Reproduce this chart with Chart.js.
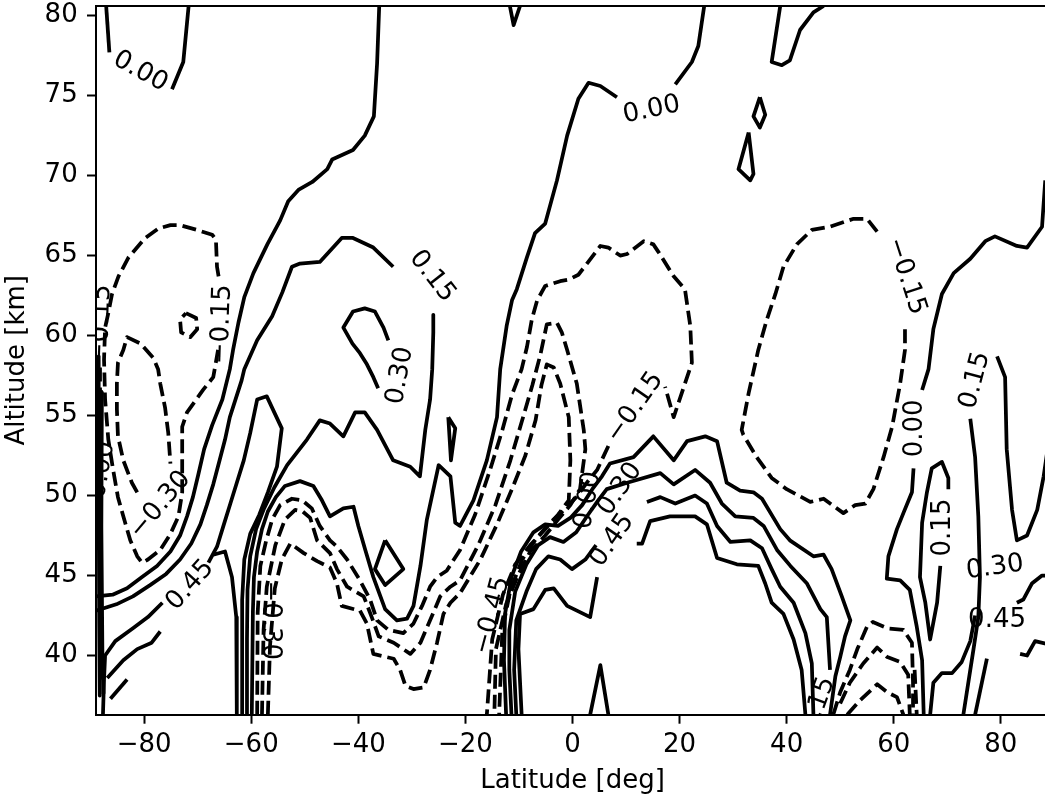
<!DOCTYPE html>
<html lang="en">
<head>
<meta charset="UTF-8">
<title>Contours</title>
<script src="https://cdn.jsdelivr.net/npm/chart.js"></script>
<style>
  html, body { margin: 0; padding: 0; background: #fff; overflow: hidden; }
  #wrap { width: 1050px; height: 801px; }
</style>
</head>
<body>
<div id="wrap"><canvas id="myChart" width="1050" height="801"></canvas></div>
<script>
// axis ticks
const latTicks = [-80, -60, -40, -20, 0, 20, 40, 60, 80];
const altTicks = [40, 45, 50, 55, 60, 65, 70, 75, 80];

// contour lines, [latitude, altitude]
const topLeftA = [[-87.1,80.6],[-86.5,77.7]];
const topLeftB = [[-74.8,75.4],[-72.7,77.1],[-71.7,80.6]];
const zeroWest = [[-36.1,80.6],[-36.5,77.0],[-37.1,73.7],[-38.8,72.5],[-41.0,71.6],[-44.9,71.0],[-45.8,70.4],[-48.6,69.6],[-51.2,69.1],[-53.1,68.4],[-54.6,67.2],[-57.0,65.7],[-59.6,63.9],[-61.3,62.4],[-62.4,60.8],[-63.4,59.1],[-64.0,57.9],[-65.4,56.0],[-67.3,54.4],[-68.8,52.9],[-69.9,51.3],[-70.9,49.9],[-72.0,48.7],[-73.3,47.5],[-75.1,46.5],[-77.6,45.6],[-80.4,44.9],[-83.2,44.2],[-85.9,43.8],[-89.0,43.7]];
const p15West = [[-33.5,64.3],[-37.2,65.5],[-41.0,66.1],[-43.1,66.1],[-47.2,64.6],[-50.9,64.5],[-52.4,64.3],[-54.2,62.7],[-56.1,61.2],[-58.9,59.7],[-61.3,57.9],[-61.8,57.2],[-64.0,54.9],[-64.9,53.5],[-66.0,52.1],[-67.1,50.7],[-68.3,49.4],[-69.5,48.2],[-71.2,47.0],[-73.3,46.0],[-75.9,45.1],[-78.9,44.4],[-82.1,43.7],[-85.2,43.2],[-89.0,42.8]];
const p45West = [[-87.7,36.3],[-87.5,38.5],[-87.3,40.0],[-85.4,40.9],[-82.1,41.7],[-79.3,42.4],[-76.6,43.3]];
const p45Peak = [[-68.0,45.8],[-66.4,46.8],[-65.2,48.1],[-63.9,49.5],[-62.7,50.8],[-61.4,52.2],[-60.2,53.9],[-58.9,56.0],[-57.1,56.2],[-54.3,54.2],[-55.2,51.8],[-56.9,50.2],[-58.5,48.8],[-60.2,47.6],[-61.3,46.0],[-61.7,43.5],[-61.7,36.3]];
const hookWest = [[-67.1,46.3],[-64.9,46.5],[-63.6,44.9],[-62.8,42.4],[-62.7,36.3]];
const lowWestA = [[-86.9,38.6],[-83.9,39.7],[-81.3,40.4],[-78.6,40.8],[-77.0,41.5]];
const lowWestB = [[-86.3,37.3],[-83.2,38.5]];
const edgeSolidA = [[-88.6,58.7],[-88.5,50.0],[-88.4,42.0],[-88.3,37.5]];
const edgeSolidB = [[-87.9,56.5],[-88.0,48.0],[-87.8,40.0],[-87.6,37.6]];
const p30Loop = [[-34.4,59.7],[-35.3,60.5],[-36.9,61.5],[-38.8,61.7],[-41.0,61.5],[-42.8,60.5],[-41.1,59.5],[-39.7,58.9],[-38.4,58.2],[-37.2,57.4],[-36.3,56.7]];
const p15Mid = [[-26.0,61.3],[-26.0,60.2],[-26.2,57.9],[-26.6,56.0],[-27.5,54.1],[-28.5,51.2],[-30.3,51.8],[-33.5,52.2],[-36.5,54.1],[-38.8,55.2],[-40.6,55.2],[-42.8,53.7],[-45.3,54.5],[-47.2,54.7],[-49.6,53.5],[-53.3,51.9],[-55.7,50.5],[-57.6,49.2],[-59.1,47.9],[-60.2,46.2],[-60.7,44.1],[-60.8,41.0],[-60.8,36.3]];
const zeroMidTop = [[24.6,80.6],[23.5,78.1],[22.3,77.1],[19.2,75.7]];
const zeroMid = [[8.3,74.9],[5.2,75.6],[3.0,75.8],[1.1,74.8],[-1.0,72.5],[-2.9,69.7],[-5.1,67.0],[-7.0,66.4],[-8.5,64.9],[-10.4,62.9],[-11.3,62.2],[-12.3,60.6],[-13.5,57.9],[-14.1,54.9],[-16.0,52.2],[-18.5,49.7],[-21.0,48.1],[-21.9,48.3],[-22.8,51.2],[-25.0,51.9],[-27.2,48.5],[-28.4,45.6],[-29.7,43.1],[-30.9,42.3],[-32.8,42.2],[-35.0,42.9],[-37.2,44.9],[-38.7,46.6],[-40.0,48.1],[-40.9,49.3],[-42.8,49.2],[-45.3,48.7],[-46.8,49.7],[-48.4,50.6],[-50.9,50.9],[-53.7,50.6],[-55.4,49.9],[-56.9,49.0],[-58.0,47.9],[-58.9,46.5],[-59.5,44.9],[-59.7,42.7],[-59.9,36.3]];
const topNotch = [[-11.7,80.6],[-11.0,79.4],[-9.8,80.6]];
const bottomNotch = [[3.3,36.3],[5.2,39.4],[6.7,36.3]];
const diamondA = [[35.0,74.9],[36.0,73.8],[35.0,73.0],[33.8,73.7],[35.0,74.9]];
const diamondB = [[32.9,72.7],[33.8,70.1],[33.2,69.7],[31.0,70.4],[32.9,72.7]];
const sliverLoop = [[-23.2,54.9],[-21.9,54.2],[-22.7,52.2],[-23.2,54.9]];
const midDiamond = [[-35.0,47.2],[-31.6,45.4],[-35.0,44.4],[-36.9,45.4],[-35.0,47.2]];
const topRightHook = [[38.8,80.6],[37.2,77.1],[39.1,76.9],[40.6,77.2],[42.5,79.1],[45.0,80.2],[46.9,80.6]];
const eastZeroTop = [[88.3,69.7],[87.7,66.8],[84.9,65.5],[83.0,65.6],[78.9,66.2],[77.1,65.9],[74.3,64.8],[71.2,63.9],[69.0,62.6],[67.4,60.4],[66.5,57.9],[65.3,56.6]];
const eastZeroLow = [[63.7,51.7],[63.4,50.2],[61.8,48.9],[60.6,47.9],[59.0,46.2],[58.7,44.8],[61.2,44.7],[63.0,44.1],[64.3,41.8],[65.3,39.7],[65.6,36.3]];
const eastV = [[70.2,50.4],[70.2,51.1],[69.0,52.1],[67.1,51.7],[66.2,50.2],[65.3,48.3],[64.9,44.9],[65.9,43.3],[66.8,41.0],[68.1,43.3],[68.7,45.6]];
const east15 = [[74.3,54.8],[75.2,52.4],[75.8,48.7],[76.1,44.9],[75.8,42.4],[74.9,40.4],[73.0,36.3]];
const east45A = [[77.4,39.8],[75.2,36.3]];
const east45B = [[66.8,36.3],[67.4,38.3],[69.0,38.9],[70.9,38.9],[72.7,39.6],[74.3,40.9],[75.2,42.5]];
const eastEdge = [[79.3,58.7],[80.8,57.4],[81.1,52.9],[82.1,49.1],[83.0,47.2],[84.9,47.5],[86.8,49.1],[88.0,51.2],[89.0,53.5]];
const eastTailA = [[83.0,43.3],[84.2,43.5],[85.8,44.5],[87.7,45.0],[89.0,45.0]];
const eastTailB = [[83.6,40.1],[84.9,40.0],[86.4,40.9],[89.0,40.7]];
const arch00 = [[-12.4,36.3],[-12.8,39.7],[-12.6,42.6],[-11.4,44.9],[-9.6,46.5],[-7.3,47.7],[-5.1,48.2],[-2.7,48.1],[-0.4,48.6],[1.8,49.4],[3.7,50.4],[5.5,51.2],[7.0,52.0],[11.4,52.4],[15.1,53.7],[18.9,52.2],[21.4,53.4],[24.8,53.7],[27.0,53.4],[28.8,50.8],[31.3,50.3],[33.8,50.2],[35.4,49.8],[38.8,47.9],[40.6,47.2],[45.0,46.2],[46.9,46.3],[48.4,45.4],[50.3,43.7],[51.9,42.2],[50.9,41.2],[50.0,39.9],[49.1,38.7],[48.1,36.3]];
const arch15 = [[-11.4,36.3],[-11.8,39.1],[-11.8,41.6],[-10.7,44.0],[-8.6,45.7],[-6.4,46.9],[-4.2,47.4],[-1.7,47.1],[0.7,47.7],[2.9,48.8],[4.8,49.7],[6.4,50.4],[10.2,50.8],[16.4,51.4],[18.9,50.7],[22.9,51.6],[25.7,50.8],[27.9,49.5],[30.4,48.7],[33.8,48.6],[35.7,48.1],[38.2,46.6],[40.7,45.6],[43.8,44.5],[46.3,42.9],[47.5,42.4],[48.1,39.1]];
const arch30West = [[-10.5,36.3],[-10.9,39.1],[-10.5,42.2],[-8.6,44.0],[-6.8,45.4],[-4.5,46.2],[-2.3,46.0],[-0.1,45.4],[2.4,46.0],[4.4,46.9]];
const arch30East = [[13.9,49.6],[16.4,49.9],[19.2,49.5],[22.9,50.0],[25.1,49.5],[27.0,48.1],[29.5,47.1],[33.2,47.2],[35.4,46.7],[37.2,45.4],[38.8,44.3],[41.3,43.3],[43.5,41.4],[44.7,39.5],[45.0,36.3]];
const arch45West = [[-9.5,36.3],[-10.1,40.4],[-9.8,42.6],[-7.3,42.9],[-5.1,44.1],[-3.5,44.2],[-1.0,43.1],[3.3,42.4],[4.6,44.9]];
const arch45East = [[12.0,47.0],[13.0,47.0],[14.5,48.4],[18.2,48.7],[22.9,48.7],[25.1,48.2],[27.0,46.1],[30.7,45.7],[34.7,45.6],[36.0,44.5],[37.2,43.3],[39.4,42.6],[41.3,41.0],[42.8,39.1],[43.5,36.3]];

// negative (dashed) contours
const m15West = [[-66.1,63.7],[-66.4,64.3],[-66.6,66.0],[-67.3,66.3],[-70.1,66.6],[-73.3,66.9],[-75.1,66.9],[-77.3,66.7],[-79.8,66.1],[-82.9,64.9],[-84.8,63.7],[-86.0,62.6],[-86.7,61.4],[-87.3,60.5],[-87.5,58.5],[-87.3,56.0],[-86.7,53.5],[-85.8,51.6],[-84.9,49.9],[-83.9,48.7],[-82.6,47.2],[-81.3,46.2],[-80.4,45.8],[-79.3,46.0],[-77.0,46.6],[-75.1,47.6],[-73.6,48.7],[-72.9,50.2],[-72.9,52.2],[-72.9,54.3],[-72.0,55.2],[-69.0,56.6],[-67.1,57.4],[-66.2,59.1]];
const m30West = [[-81.3,50.2],[-82.3,50.8],[-83.9,52.2],[-84.9,53.7],[-85.1,55.4],[-85.1,57.0],[-84.9,58.3],[-83.9,59.1],[-83.2,59.9],[-80.7,59.5],[-78.3,58.6],[-77.4,57.9],[-77.0,57.0],[-76.1,55.5],[-75.5,53.9],[-75.1,52.0]];
const m15Dot = [[-72.2,61.4],[-70.3,61.1],[-70.1,60.4],[-71.4,59.9],[-73.1,60.2],[-73.3,61.0],[-72.2,61.4]];
const edgeDash = [[-88.25,58.0],[-88.2,38.5]];
const tongue15 = [[-58.9,36.3],[-58.8,42.7],[-58.3,45.6],[-57.2,47.2],[-56.1,48.5],[-54.6,49.4],[-52.4,49.8],[-50.5,49.7],[-48.7,49.2],[-47.2,48.1],[-45.3,47.2],[-44.0,46.8],[-42.1,46.0],[-39.7,44.7],[-37.8,43.5],[-36.5,42.2],[-34.4,41.6],[-31.6,41.4],[-29.7,42.0],[-28.1,43.1],[-26.6,44.3],[-25.3,44.9],[-23.5,45.3],[-21.0,46.6],[-18.2,48.8],[-15.4,51.6],[-13.1,54.1],[-11.3,56.3],[-9.5,57.9],[-8.5,59.3],[-7.6,61.0],[-6.6,62.2],[-5.1,63.1],[-2.3,63.4],[-0.7,63.5],[1.1,63.8],[2.7,64.5],[5.2,65.6],[6.7,65.5],[8.9,65.0],[10.2,65.1],[13.3,65.9],[15.1,65.7],[16.1,65.2],[18.9,63.7],[21.0,62.9],[22.0,60.6],[22.3,58.3],[18.9,54.9],[17.3,56.8]];
const tongue15Tail = [[6.7,53.1],[4.6,51.6],[2.9,50.9],[0.7,49.9],[-1.9,49.0],[-4.5,48.2],[-7.0,47.2],[-9.4,46.0],[-11.6,44.1],[-13.1,41.6],[-13.7,36.3]];
const tongue30 = [[-58.0,36.3],[-57.7,41.6],[-57.1,44.3],[-55.5,46.9],[-53.7,48.5],[-51.8,49.1],[-50.4,49.0],[-49.0,48.6],[-47.7,47.2],[-45.3,46.4],[-44.0,45.4],[-42.1,44.3],[-39.0,43.7],[-37.5,42.4],[-36.2,41.2],[-33.4,40.8],[-30.3,40.1],[-28.4,40.8],[-26.6,42.2],[-24.7,43.7],[-22.8,44.3],[-21.0,44.7],[-17.6,46.9],[-14.4,49.4],[-11.6,52.2],[-9.4,54.7],[-7.5,56.9],[-6.0,58.8],[-4.8,60.7],[-2.9,60.8],[-2.0,60.2],[-1.0,59.1],[0.8,57.0],[2.1,54.1],[2.4,52.9],[1.4,50.4],[-0.4,49.4],[-2.7,48.5],[-5.1,47.5],[-7.9,46.5],[-10.2,45.0],[-12.4,43.2],[-14.3,40.4],[-14.6,36.3]];
const tongue45 = [[-56.9,36.3],[-56.5,40.6],[-55.6,44.2],[-54.3,46.0],[-52.7,47.0],[-50.2,46.4],[-47.7,45.9],[-45.3,45.5],[-44.0,44.5],[-43.1,43.1],[-39.7,42.8],[-38.4,42.0],[-37.2,40.1],[-33.4,39.8],[-32.2,39.1],[-31.2,38.1],[-29.7,37.9],[-27.8,38.0],[-26.6,39.1],[-25.3,40.8],[-24.1,42.6],[-22.8,43.3],[-21.0,43.9],[-17.2,46.0],[-14.1,48.2],[-11.3,50.4],[-8.8,52.5],[-6.9,54.7],[-5.8,56.9],[-4.8,58.2],[-3.5,58.0],[-2.3,57.0],[-0.7,54.9],[-0.4,52.2],[-0.7,49.7],[-2.7,48.8],[-5.1,47.9],[-7.9,46.9],[-10.7,45.7],[-13.0,43.8],[-15.0,41.0],[-16.0,36.3]];
const m15East = [[56.9,66.5],[55.0,67.3],[52.5,67.3],[48.1,66.8],[44.7,66.6],[41.9,65.7],[39.4,64.3],[37.9,62.6],[36.3,61.0],[34.7,59.1],[32.9,56.4],[31.6,54.1],[31.9,53.8],[34.4,52.4],[37.2,51.1],[40.0,50.4],[44.4,49.6],[46.9,49.8],[50.6,48.9],[52.8,49.4],[54.7,49.5],[56.2,50.4],[58.1,52.4],[59.7,54.3],[61.2,57.0],[62.1,59.1],[62.1,60.5]];
const eastDashA = [[48.7,36.3],[50.0,37.7],[51.8,39.1],[53.2,40.4],[55.0,41.8],[56.1,42.1],[58.8,41.7],[61.8,41.6],[63.4,40.8],[63.6,38.3],[63.6,36.3]];
const eastDashB = [[50.0,37.0],[51.8,38.3],[54.3,39.5],[56.9,40.5],[58.8,39.9],[61.2,39.6],[62.7,38.8],[63.0,36.3]];
const eastDashC = [[51.3,36.3],[53.7,37.2],[56.9,38.2],[58.8,37.7],[60.6,37.4],[61.8,36.3]];
const eastDashD = [[63.9,39.1],[64.3,36.3]];

// inline contour labels
const labelTexts = ['0.00','0.15','0.30','\u22120.15','\u22120.30','0.45','0.00','\u22120.15','\u22120.15','0.00','0.15','0.15','0.30','0.45','0.30','0.45','0.00','\u22120.45','\u22120.30','\u22120.15','0.00','0.15'];
const labelLat = [-80.7,-26.2,-32.2,-65.5,-77.0,-71.4,14.8,11.7,62.3,64.0,75.2,69.2,78.9,79.3,8.9,7.4,2.9,-15.0,-56.6,-88.0,-87.9,45.9];
const labelAlt = [76.5,63.7,57.5,60.7,49.4,44.4,74.1,55.5,63.7,54.2,57.2,48.0,45.5,42.2,50.4,47.2,49.7,42.5,42.2,60.7,51.6,36.9];
const labelAngle = [29,52,-80,-88,-50,-48,-12,-55,72,-90,-75,-90,-8,0,-55,-55,-80,-75,90,-88,-80,-70];

const solidPaths = [topLeftA, topLeftB, zeroWest, p15West, p45West, p45Peak, hookWest, lowWestA, lowWestB,
  edgeSolidA, edgeSolidB, p30Loop, p15Mid, zeroMidTop, zeroMid, topNotch, bottomNotch, diamondA, diamondB,
  sliverLoop, midDiamond, topRightHook, eastZeroTop, eastZeroLow, eastV, east15, east45A, east45B, eastEdge,
  eastTailA, eastTailB, arch00, arch15, arch30West, arch30East, arch45West, arch45East];
const dashedPaths = [m15West, m30West, m15Dot, edgeDash, tongue15, tongue15Tail, tongue30, tongue45, m15East,
  eastDashA, eastDashB, eastDashC, eastDashD];

const FONT = "'DejaVu Sans', 'Liberation Sans', sans-serif";
const FS = 26;

function toDataset(path, dashed) {
  return {
    data: path.map(p => ({ x: p[0], y: p[1] })),
    showLine: true,
    borderColor: '#000',
    borderWidth: 3.75,
    borderDash: dashed ? [14, 6] : [],
    borderCapStyle: 'butt',
    borderJoinStyle: 'round',
    pointRadius: 0,
    fill: false,
    tension: 0
  };
}

const datasets = solidPaths.map(p => toDataset(p, false)).concat(dashedPaths.map(p => toDataset(p, true)));

function fmt(v) {
  return v < 0 ? '\u2212' + Math.abs(v) : String(v);
}

const framePlugin = {
  id: 'frame',
  afterDatasetsDraw(chart) {
    const ctx = chart.ctx;
    const a = chart.chartArea;
    const xs = chart.scales.x, ys = chart.scales.y;
    // contour labels
    ctx.save();
    ctx.beginPath();
    ctx.rect(a.left, a.top, a.right - a.left, a.bottom - a.top);
    ctx.clip();
    ctx.fillStyle = '#000';
    ctx.font = FS + 'px ' + FONT;
    ctx.textAlign = 'center';
    ctx.textBaseline = 'middle';
    for (let i = 0; i < labelTexts.length; i++) {
      const px = xs.getPixelForValue(labelLat[i]);
      const py = ys.getPixelForValue(labelAlt[i]);
      ctx.save();
      ctx.translate(px, py);
      ctx.rotate(labelAngle[i] * Math.PI / 180);
      ctx.fillText(labelTexts[i], 0, 0);
      ctx.restore();
    }
    ctx.restore();
    // top and right spines
    ctx.save();
    ctx.strokeStyle = '#000';
    ctx.lineWidth = 2;
    ctx.beginPath();
    ctx.moveTo(a.left - 1, a.top);
    ctx.lineTo(a.right, a.top);
    ctx.lineTo(a.right, a.bottom);
    ctx.stroke();
    ctx.restore();
  }
};

new Chart(document.getElementById('myChart'), {
  type: 'scatter',
  data: { datasets: datasets },
  options: {
    responsive: false,
    animation: false,
    events: [],
    layout: { padding: { top: 6, right: 1, left: 0, bottom: 0 } },
    plugins: { legend: { display: false }, tooltip: { enabled: false } },
    scales: {
      x: {
        type: 'linear',
        min: -89,
        max: 89,
        afterBuildTicks: (s) => { s.ticks = latTicks.map(v => ({ value: v })); },
        afterFit: (s) => { s.height = 86.3; s.paddingLeft = 0; s.paddingRight = 0; },
        ticks: { color: '#000', font: { family: FONT, size: FS }, padding: 5.7, maxRotation: 0, callback: (v) => fmt(v) },
        grid: { drawOnChartArea: false, drawTicks: true, tickLength: 9, tickWidth: 2, tickColor: '#000' },
        border: { display: true, color: '#000', width: 2 },
        title: { display: true, text: 'Latitude [deg]', color: '#000', font: { family: FONT, size: FS }, padding: { top: 0, bottom: 3.7 } }
      },
      y: {
        type: 'linear',
        min: 36.3,
        max: 80.6,
        afterBuildTicks: (s) => { s.ticks = altTicks.map(v => ({ value: v })); },
        afterFit: (s) => { s.width = 96; s.paddingTop = 0; s.paddingBottom = 0; },
        ticks: { color: '#000', font: { family: FONT, size: FS }, padding: 9.3, callback: (v) => fmt(v) },
        grid: { drawOnChartArea: false, drawTicks: true, tickLength: 9, tickWidth: 2, tickColor: '#000' },
        border: { display: true, color: '#000', width: 2 },
        title: { display: true, text: 'Altitude [km]', color: '#000', font: { family: FONT, size: FS }, padding: { top: 2.1, bottom: 0 } }
      }
    }
  },
  plugins: [framePlugin]
});
</script>
</body>
</html>
